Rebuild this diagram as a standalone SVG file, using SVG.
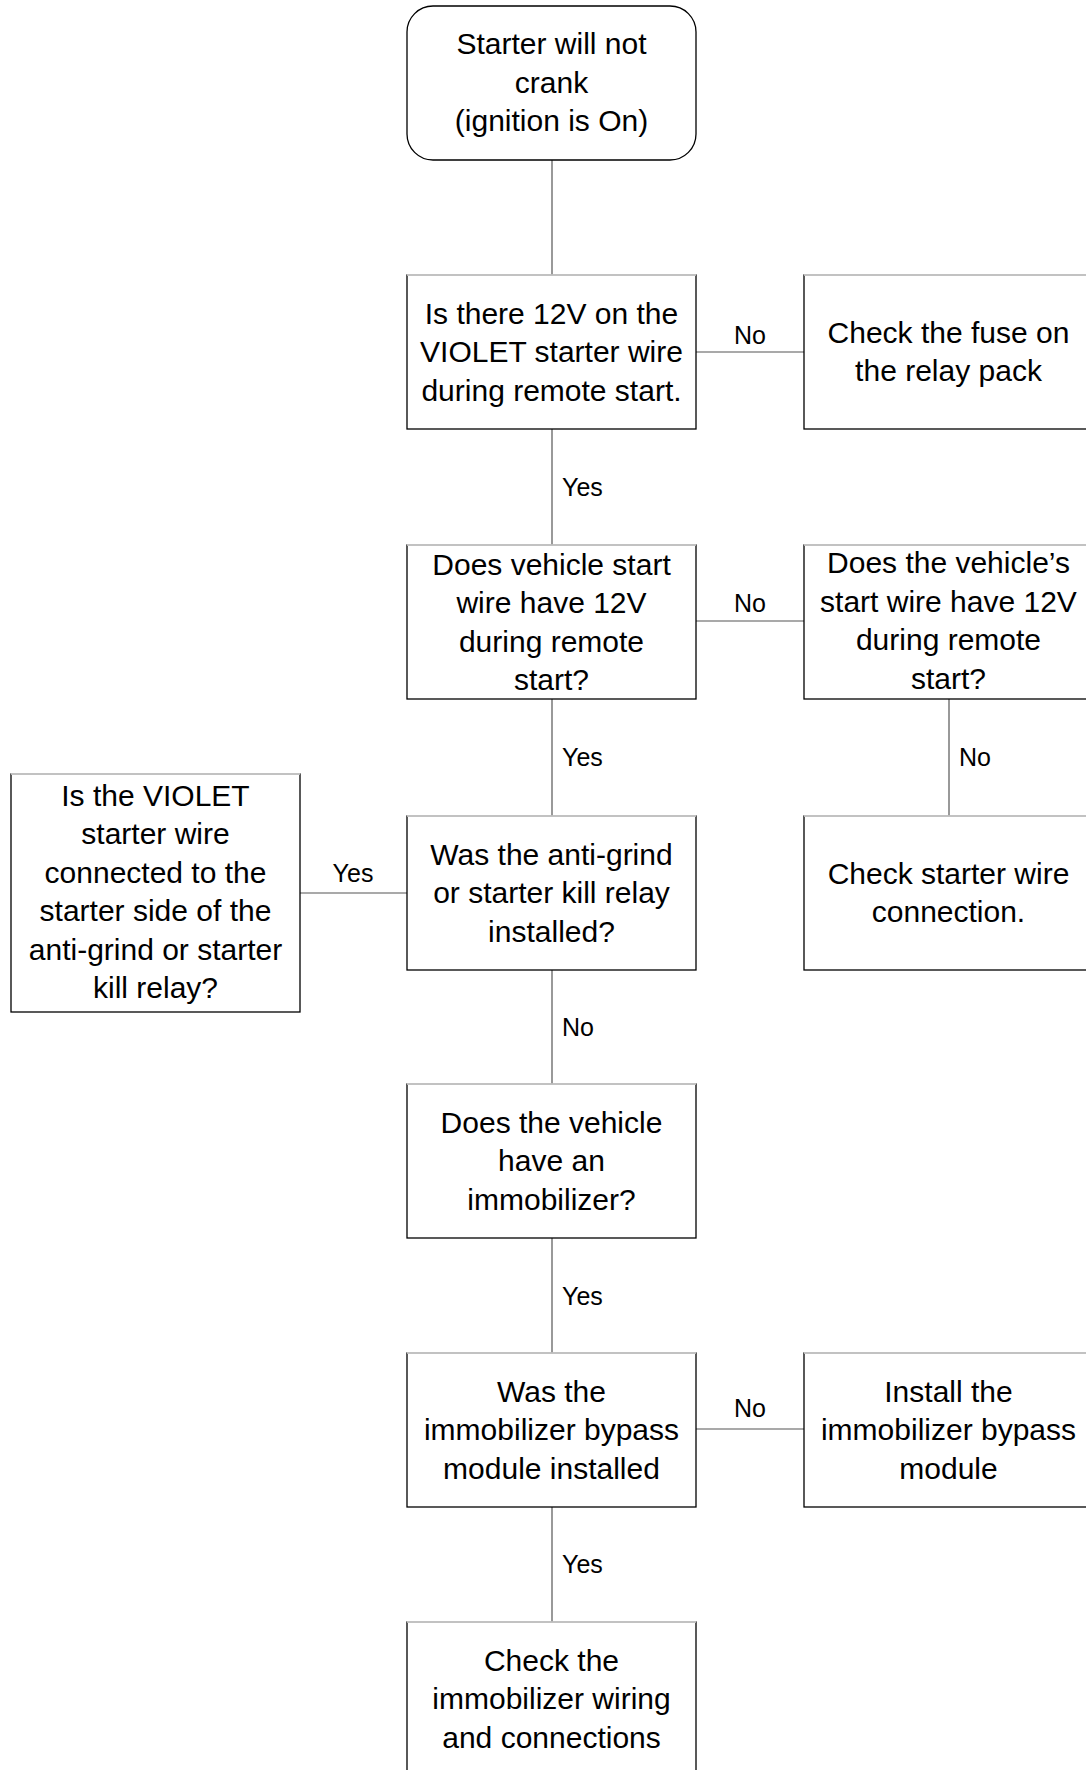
<svg xmlns="http://www.w3.org/2000/svg" width="1086" height="1770" viewBox="0 0 1086 1770">
<style>
.box{fill:#fff;stroke:#000;stroke-width:1.3}
.top{stroke:#e6e6e6;stroke-width:1.3}
.t{font-family:"Liberation Sans",Arial,sans-serif;font-size:30px;fill:#000;text-anchor:middle}
.lbl{font-family:"Liberation Sans",Arial,sans-serif;font-size:25px;fill:#000}
.c{stroke:#555;stroke-width:1.2;fill:none}
</style>
<rect width="1086" height="1770" fill="#fff"/>
<g id="connectors">
<line class="c" x1="552" y1="160" x2="552" y2="275"/>
<line class="c" x1="552" y1="429" x2="552" y2="545"/>
<line class="c" x1="696" y1="352" x2="804" y2="352"/>
<text class="lbl" x="750" y="344" text-anchor="middle">No</text>
<text class="lbl" x="562" y="496">Yes</text>
<line class="c" x1="696" y1="621" x2="804" y2="621"/>
<text class="lbl" x="750" y="612" text-anchor="middle">No</text>
<line class="c" x1="552" y1="699" x2="552" y2="816"/>
<text class="lbl" x="562" y="766">Yes</text>
<line class="c" x1="949" y1="699" x2="949" y2="816"/>
<text class="lbl" x="959" y="766">No</text>
<line class="c" x1="300" y1="893" x2="407" y2="893"/>
<text class="lbl" x="353" y="882" text-anchor="middle">Yes</text>
<line class="c" x1="552" y1="970" x2="552" y2="1084"/>
<text class="lbl" x="562" y="1036">No</text>
<line class="c" x1="552" y1="1238" x2="552" y2="1353"/>
<text class="lbl" x="562" y="1305">Yes</text>
<line class="c" x1="696" y1="1429" x2="804" y2="1429"/>
<text class="lbl" x="750" y="1417" text-anchor="middle">No</text>
<line class="c" x1="552" y1="1507" x2="552" y2="1622"/>
<text class="lbl" x="562" y="1573">Yes</text>
</g>
<g id="start">
<rect class="box" x="407" y="6" width="289" height="154" rx="26" ry="26"/>
<text class="t" x="551.5" y="54">Starter will not</text>
<text class="t" x="551.5" y="92.5">crank</text>
<text class="t" x="551.5" y="131">(ignition is On)</text>
</g>
<g id="q12v">
<rect class="box" x="407" y="275" width="289" height="154"/>
<line class="top" x1="407" y1="275" x2="696" y2="275"/>
<text class="t" x="551.5" y="323.5">Is there 12V on the</text>
<text class="t" x="551.5" y="362">VIOLET starter wire</text>
<text class="t" x="551.5" y="400.5">during remote start.</text>
</g>
<g id="fuse">
<rect class="box" x="804" y="275" width="289" height="154"/>
<line class="top" x1="804" y1="275" x2="1093" y2="275"/>
<text class="t" x="948.5" y="342.5">Check the fuse on</text>
<text class="t" x="948.5" y="381">the relay pack</text>
</g>
<g id="qstartwire">
<rect class="box" x="407" y="545" width="289" height="154"/>
<line class="top" x1="407" y1="545" x2="696" y2="545"/>
<text class="t" x="551.5" y="574.5">Does vehicle start</text>
<text class="t" x="551.5" y="613">wire have 12V</text>
<text class="t" x="551.5" y="651.5">during remote</text>
<text class="t" x="551.5" y="690">start?</text>
</g>
<g id="qvehiclestart">
<rect class="box" x="804" y="545" width="289" height="154"/>
<line class="top" x1="804" y1="545" x2="1093" y2="545"/>
<text class="t" x="948.5" y="573">Does the vehicle’s</text>
<text class="t" x="948.5" y="611.5">start wire have 12V</text>
<text class="t" x="948.5" y="650">during remote</text>
<text class="t" x="948.5" y="688.5">start?</text>
</g>
<g id="qantigrind">
<rect class="box" x="407" y="816" width="289" height="154"/>
<line class="top" x1="407" y1="816" x2="696" y2="816"/>
<text class="t" x="551.5" y="864.5">Was the anti-grind</text>
<text class="t" x="551.5" y="903">or starter kill relay</text>
<text class="t" x="551.5" y="941.5">installed?</text>
</g>
<g id="checkstarter">
<rect class="box" x="804" y="816" width="289" height="154"/>
<line class="top" x1="804" y1="816" x2="1093" y2="816"/>
<text class="t" x="948.5" y="883.5">Check starter wire</text>
<text class="t" x="948.5" y="922">connection.</text>
</g>
<g id="qviolet">
<rect class="box" x="11" y="774" width="289" height="238"/>
<line class="top" x1="11" y1="774" x2="300" y2="774"/>
<text class="t" x="155.5" y="805.5">Is the VIOLET</text>
<text class="t" x="155.5" y="844">starter wire</text>
<text class="t" x="155.5" y="882.5">connected to the</text>
<text class="t" x="155.5" y="921">starter side of the</text>
<text class="t" x="155.5" y="959.5">anti-grind or starter</text>
<text class="t" x="155.5" y="998">kill relay?</text>
</g>
<g id="qimmobilizer">
<rect class="box" x="407" y="1084" width="289" height="154"/>
<line class="top" x1="407" y1="1084" x2="696" y2="1084"/>
<text class="t" x="551.5" y="1132.5">Does the vehicle</text>
<text class="t" x="551.5" y="1171">have an</text>
<text class="t" x="551.5" y="1209.5">immobilizer?</text>
</g>
<g id="qbypass">
<rect class="box" x="407" y="1353" width="289" height="154"/>
<line class="top" x1="407" y1="1353" x2="696" y2="1353"/>
<text class="t" x="551.5" y="1401.5">Was the</text>
<text class="t" x="551.5" y="1440">immobilizer bypass</text>
<text class="t" x="551.5" y="1478.5">module installed</text>
</g>
<g id="installbypass">
<rect class="box" x="804" y="1353" width="289" height="154"/>
<line class="top" x1="804" y1="1353" x2="1093" y2="1353"/>
<text class="t" x="948.5" y="1401.5">Install the</text>
<text class="t" x="948.5" y="1440">immobilizer bypass</text>
<text class="t" x="948.5" y="1478.5">module</text>
</g>
<g id="checkwiring">
<rect class="box" x="407" y="1622" width="289" height="154"/>
<line class="top" x1="407" y1="1622" x2="696" y2="1622"/>
<text class="t" x="551.5" y="1670.5">Check the</text>
<text class="t" x="551.5" y="1709">immobilizer wiring</text>
<text class="t" x="551.5" y="1747.5">and connections</text>
</g>
</svg>
